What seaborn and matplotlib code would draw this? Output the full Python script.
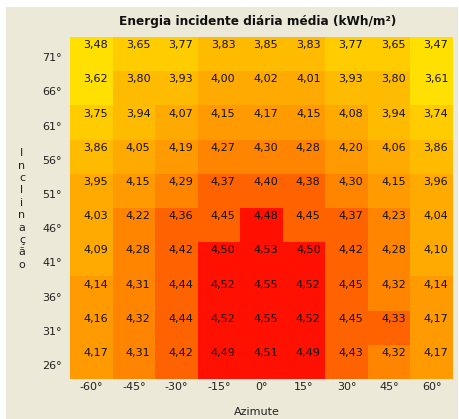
import numpy as np
import pandas as pd
import seaborn as sns
import matplotlib.pyplot as plt
from matplotlib.colors import ListedColormap, BoundaryNorm
from matplotlib.patches import Rectangle

# tilt (rows, top to bottom) and azimuth (columns)
inclinations = [71, 66, 61, 56, 51, 46, 41, 36, 31, 26]
azimuths = [-60, -45, -30, -15, 0, 15, 30, 45, 60]

# mean daily incident energy, kWh/m2
row_71 = [3.48, 3.65, 3.77, 3.83, 3.85, 3.83, 3.77, 3.65, 3.47]
row_66 = [3.62, 3.80, 3.93, 4.00, 4.02, 4.01, 3.93, 3.80, 3.61]
row_61 = [3.75, 3.94, 4.07, 4.15, 4.17, 4.15, 4.08, 3.94, 3.74]
row_56 = [3.86, 4.05, 4.19, 4.27, 4.30, 4.28, 4.20, 4.06, 3.86]
row_51 = [3.95, 4.15, 4.29, 4.37, 4.40, 4.38, 4.30, 4.15, 3.96]
row_46 = [4.03, 4.22, 4.36, 4.45, 4.48, 4.45, 4.37, 4.23, 4.04]
row_41 = [4.09, 4.28, 4.42, 4.50, 4.53, 4.50, 4.42, 4.28, 4.10]
row_36 = [4.14, 4.31, 4.44, 4.52, 4.55, 4.52, 4.45, 4.32, 4.14]
row_31 = [4.16, 4.32, 4.44, 4.52, 4.55, 4.52, 4.45, 4.33, 4.17]
row_26 = [4.17, 4.31, 4.42, 4.49, 4.51, 4.49, 4.43, 4.32, 4.17]

rows = [row_71, row_66, row_61, row_56, row_51, row_46, row_41, row_36, row_31, row_26]
df = pd.DataFrame(rows,
                  index=[f"{i}°" for i in inclinations],
                  columns=[f"{a}°" for a in azimuths])

# colour classes
edges = [3.0, 3.635, 3.785, 3.945, 4.115, 4.205, 4.325, 4.465, 5.0]
colors = ['#FFE000', '#FFCC00', '#FFBB00', '#FFAA00', '#FF9A00',
          '#FF8400', '#FF6300', '#FF1000']
cmap = ListedColormap(colors)
norm = BoundaryNorm(edges, cmap.N)

plt.rcParams['font.family'] = ['DejaVu Sans']

fig = plt.figure(figsize=(4.6, 4.19), dpi=100)
fig.patch.set_facecolor('white')
fig.patches.append(Rectangle((6 / 460, 0), 452 / 460, 412 / 419,
                             transform=fig.transFigure, facecolor='#ECE9D8',
                             edgecolor='none', zorder=-5))

ax = fig.add_axes([70 / 460, 1 - 379 / 419, 383 / 460, 342 / 419])
sns.heatmap(df, cmap=cmap, norm=norm, cbar=False, ax=ax, linewidths=0)

for i in range(df.shape[0]):
    for j in range(df.shape[1]):
        ax.text(j + 0.6, i + 0.24, f"{df.iat[i, j]:.2f}".replace('.', ','),
                ha='center', va='center', fontsize=8, color='#111111')

ax.set_yticks(np.arange(len(inclinations)) + 0.62)
ax.set_yticklabels(df.index, rotation=0, fontsize=8, color='#222222')
ax.set_xticks(np.arange(len(azimuths)) + 0.5)
ax.set_xticklabels(df.columns, fontsize=8, color='#222222')
ax.tick_params(length=0)
ax.tick_params(axis='x', pad=2)
ax.tick_params(axis='y', pad=6)
ax.set_xlabel('')
ax.set_ylabel('')

fig.text(258 / 460, 1 - 21 / 419, 'Energia incidente diária média (kWh/m²)',
         ha='center', va='center', fontsize=8.7, fontweight='bold', color='#111111')
fig.text(257 / 460, 1 - 412 / 419, 'Azimute', ha='center', va='center',
         fontsize=8, color='#222222')
fig.text(22 / 460, 1 - 209 / 419, '\n'.join('Inclinação'), ha='center',
         va='center', fontsize=8, color='#222222', linespacing=1.3)

fig.savefig('out.png', dpi=100)
